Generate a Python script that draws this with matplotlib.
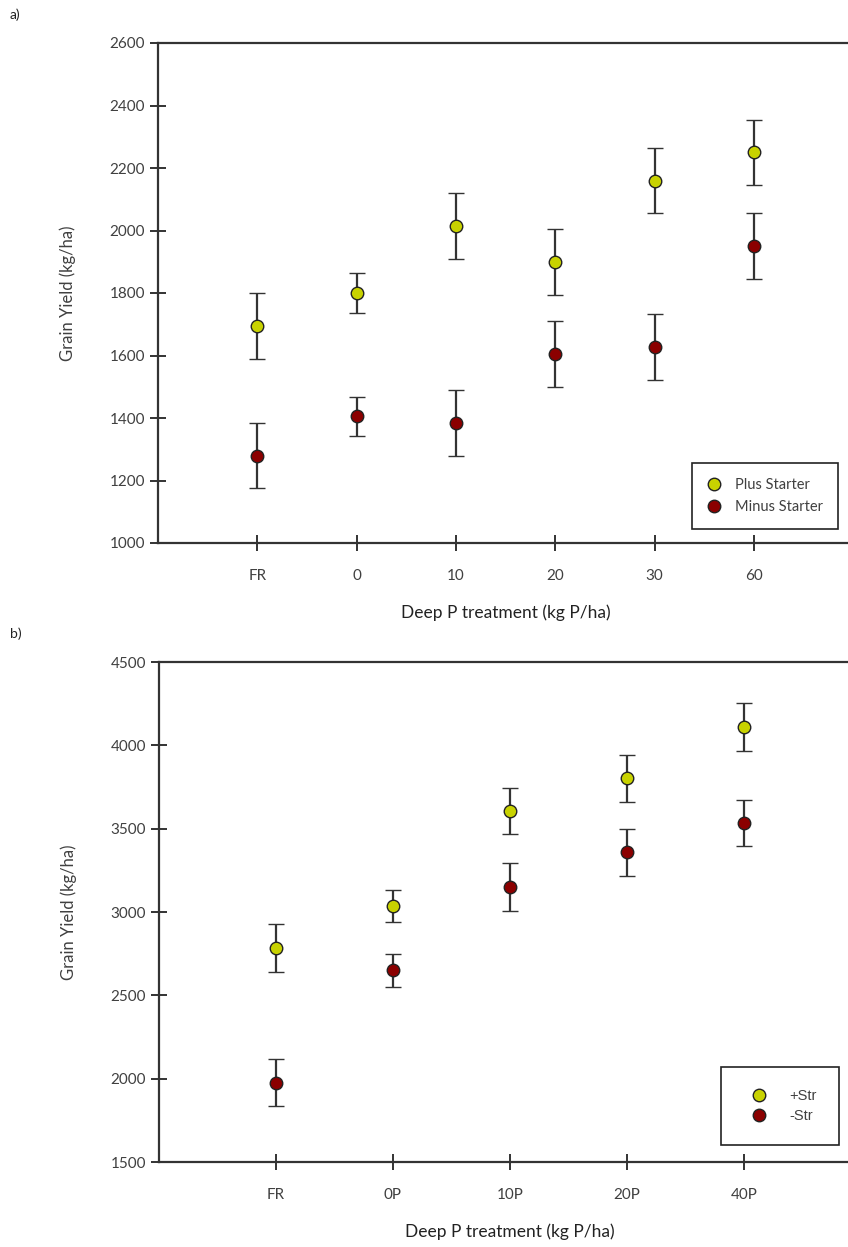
import matplotlib
matplotlib.use("Agg")
import matplotlib.pyplot as plt

plt.rcParams['font.family'] = ['Lato', 'DejaVu Sans']

# panel a data
cats_a = ['FR', '0', '10', '20', '30', '60']
plus_a = [1695, 1800, 2015, 1900, 2160, 2250]
plus_a_err = [105, 63, 105, 105, 105, 105]
minus_a = [1280, 1405, 1385, 1605, 1628, 1950]
minus_a_err = [105, 63, 106, 106, 105, 105]

# panel b data
cats_b = ['FR', '0P', '10P', '20P', '40P']
plus_b = [2782, 3038, 3606, 3802, 4110]
plus_b_err = [144, 96, 140, 143, 142]
minus_b = [1976, 2652, 3152, 3358, 3536]
minus_b_err = [142, 99, 144, 141, 139]

yellow = '#c8d200'
red = '#8b0000'
axcol = '#333333'
txtcol = '#404040'

fig = plt.figure(figsize=(8.48, 12.47), dpi=100)
W, H = 848, 1247

ax_a = fig.add_axes([158 / W, 1 - 543 / H, 7 * 99.3 / W, 500 / H])
ax_b = fig.add_axes([159 / W, 1 - 1162 / H, 6 * 117 / W, 500 / H])


def draw(ax, cats, plus, perr, minus, merr, lab1, lab2):
    x = list(range(1, len(cats) + 1))
    kw = dict(fmt='o', ms=9, mec='#222222', mew=1, ecolor=axcol,
              elinewidth=1.6, capsize=5.5, capthick=1.6)
    h1 = ax.errorbar(x, plus, yerr=perr, mfc=yellow, label=lab1, **kw)
    h2 = ax.errorbar(x, minus, yerr=merr, mfc=red, label=lab2, **kw)
    ax.set_xlim(0, len(cats) + 1)
    ax.set_xticks(x)
    ax.set_xticklabels(cats)
    for s in ['left', 'bottom', 'top']:
        ax.spines[s].set_color(axcol)
        ax.spines[s].set_linewidth(1.6)
    ax.spines['right'].set_visible(False)
    ax.tick_params(axis='both', direction='inout', length=11, width=1.4,
                   color=axcol, labelcolor=txtcol, labelsize=11)
    ax.tick_params(axis='x', pad=13)
    ax.tick_params(axis='y', pad=4)
    ax.set_xlabel('Deep P treatment (kg P/ha)', fontsize=12.5, color='#222222',
                  labelpad=16)
    ax.set_ylabel('Grain Yield (kg/ha)', fontsize=12, color=txtcol,
                  labelpad=24)
    return h1, h2


h = draw(ax_a, cats_a, plus_a, plus_a_err, minus_a, minus_a_err,
         'Plus Starter', 'Minus Starter')
ax_a.set_ylim(1000, 2600)
ax_a.set_yticks(range(1000, 2601, 200))
hs = [h[0][0], h[1][0]]
leg = ax_a.legend(hs, ['Plus Starter', 'Minus Starter'], loc='lower right',
                  bbox_to_anchor=(838 / W, 1 - 529 / H),
                  bbox_transform=fig.transFigure, borderaxespad=0,
                  fancybox=False, edgecolor='#222222', framealpha=1,
                  fontsize=10.5, handlelength=1.0, handletextpad=1.0,
                  borderpad=1.0, labelspacing=0.6)
leg.get_frame().set_linewidth(1.2)
for t in leg.get_texts():
    t.set_color(txtcol)

h = draw(ax_b, cats_b, plus_b, plus_b_err, minus_b, minus_b_err,
         '+Str', '-Str')
ax_b.set_ylim(1500, 4500)
ax_b.set_yticks(range(1500, 4501, 500))
hs = [h[0][0], h[1][0]]
leg = ax_b.legend(hs, ['+Str', '-Str'], loc='lower right',
                  bbox_to_anchor=(839 / W, 1 - 1145 / H),
                  bbox_transform=fig.transFigure, borderaxespad=0,
                  fancybox=False, edgecolor='#222222', framealpha=1,
                  prop={'family': ['Liberation Sans'], 'size': 10.5},
                  handlelength=2.2, handletextpad=1.0, borderpad=1.5,
                  labelspacing=0.4)
leg.get_frame().set_linewidth(1.2)
for t in leg.get_texts():
    t.set_color(txtcol)

fig.text(10 / W, 1 - 15 / H, 'a)', fontsize=10, va='center', color='#222222')
fig.text(10 / W, 1 - 634 / H, 'b)', fontsize=10, va='center', color='#222222')

fig.savefig('out.png', dpi=100)
